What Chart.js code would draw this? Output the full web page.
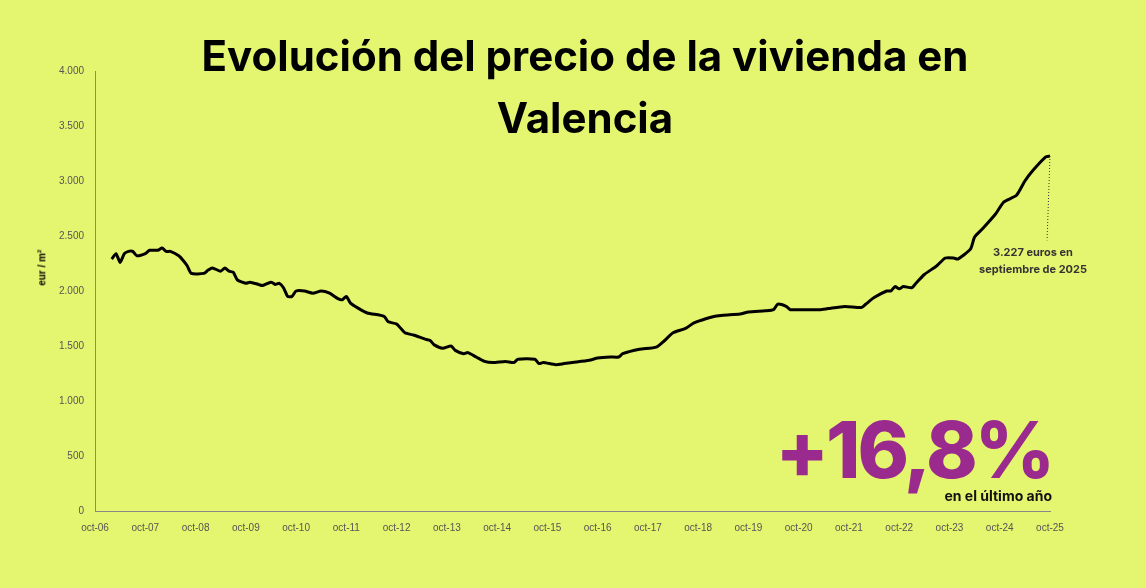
<!DOCTYPE html>
<html><head><meta charset="utf-8">
<script src="https://cdn.jsdelivr.net/npm/chart.js@4"></script>
<style>
body{margin:0;background:#e4f66f;width:1146px;height:588px;overflow:hidden;font-family:"Liberation Sans",Arial,sans-serif}
#wrap{position:absolute;left:0;top:0;width:1146px;height:588px}
.t{position:absolute;left:0;width:1170px;text-align:center;font-family:Inter,"DejaVu Sans",sans-serif;font-weight:700;font-size:42px;color:#000;letter-spacing:0px}
</style></head><body>
<div id="wrap"><canvas id="c" width="1146" height="588"></canvas></div>
<div class="t" style="top:30px">Evolución del precio de la vivienda en</div>
<div class="t" style="top:92px">Valencia</div>
<div style="position:absolute;right:94px;top:402px;font-family:Inter,sans-serif;font-weight:800;font-size:78px;color:#9b2a8f;letter-spacing:-3px">+16,8%</div>
<div style="position:absolute;right:94px;top:487px;font-family:Inter,sans-serif;font-weight:700;font-size:14px;color:#111">en el último año</div>
<div style="position:absolute;left:975px;width:116px;top:244px;text-align:center;font-family:Inter,sans-serif;font-weight:700;font-size:11px;line-height:17px;color:#333">3.227 euros en<br>septiembre de 2025</div>
<div style="position:absolute;left:22px;top:262px;transform:rotate(-90deg);transform-origin:center;font-weight:700;font-size:10px;width:40px;text-align:center">eur / m<sup style="font-size:6px">2</sup></div>
<script>
const tickLabels=["oct-06","oct-07","oct-08","oct-09","oct-10","oct-11","oct-12","oct-13","oct-14","oct-15","oct-16","oct-17","oct-18","oct-19","oct-20","oct-21","oct-22","oct-23","oct-24","oct-25"];
const months=[4,5,6,7,8,9,10,12,13,15,16,17,18,20,21,22,23,26,27,28,30,31,32,33,34,36,37,39,40,42,43,44,45,46,47,48,50,52,54,56,58,59,60,61,63,65,69,70,72,74,76,79,80,81,83,85,86,88,89,91,93,95,98,100,101,105,106,107,110,112,114,118,120,123,125,126,130,134,136,138,141,143,146,148,150,154,156,160,162,163,165,166,168,173,175,179,183,184,186,189,190,191,192,193,195,196,198,201,203,205,206,209,210,212,215,217,220,222,224,227,228];
const prices=[2290,2340,2260,2340,2360,2360,2320,2340,2370,2370,2390,2360,2360,2320,2280,2230,2160,2160,2190,2210,2180,2210,2180,2170,2100,2070,2080,2060,2050,2080,2060,2070,2030,1950,1950,2000,2000,1980,2000,1980,1930,1920,1950,1890,1840,1800,1770,1720,1700,1620,1600,1560,1550,1510,1480,1500,1460,1430,1440,1400,1360,1350,1360,1350,1380,1380,1340,1350,1330,1340,1350,1370,1390,1400,1400,1430,1470,1490,1550,1620,1660,1710,1750,1770,1780,1790,1810,1820,1830,1880,1860,1830,1830,1830,1840,1860,1850,1880,1940,2000,2000,2040,2020,2040,2030,2070,2150,2230,2300,2300,2290,2380,2490,2570,2700,2810,2870,3000,3100,3220,3227];
const pts=months.map((m,i)=>({x:m,y:prices[i]}));
const leader={id:'leader',afterDatasetsDraw(ch){const c=ch.ctx,xs=ch.scales.x,ys=ch.scales.y;c.save();c.setLineDash([1,2]);c.strokeStyle='#333';c.lineWidth=1;c.beginPath();c.moveTo(xs.getPixelForValue(228),ys.getPixelForValue(3227));c.lineTo(xs.getPixelForValue(227.3),ys.getPixelForValue(2460));c.stroke();c.restore();}};
new Chart(document.getElementById('c'),{type:'line',data:{datasets:[{data:pts,borderColor:'#000',borderWidth:3,pointRadius:0,tension:0.2,fill:false}]},
options:{responsive:false,animation:false,layout:{padding:{left:56,right:96,top:71,bottom:51}},plugins:{legend:{display:false},tooltip:{enabled:false}},
scales:{x:{type:'linear',min:0,max:228,grid:{display:false,drawTicks:true},border:{color:'#888'},ticks:{stepSize:12,autoSkip:false,maxRotation:0,color:'#555',font:{size:10},callback:v=>tickLabels[v/12]}},
y:{min:0,max:4000,grid:{display:false},border:{color:'#888'},ticks:{stepSize:500,color:'#555',font:{size:10},callback:v=>v.toLocaleString('de-DE')}}}},plugins:[leader]});
</script></body></html>
